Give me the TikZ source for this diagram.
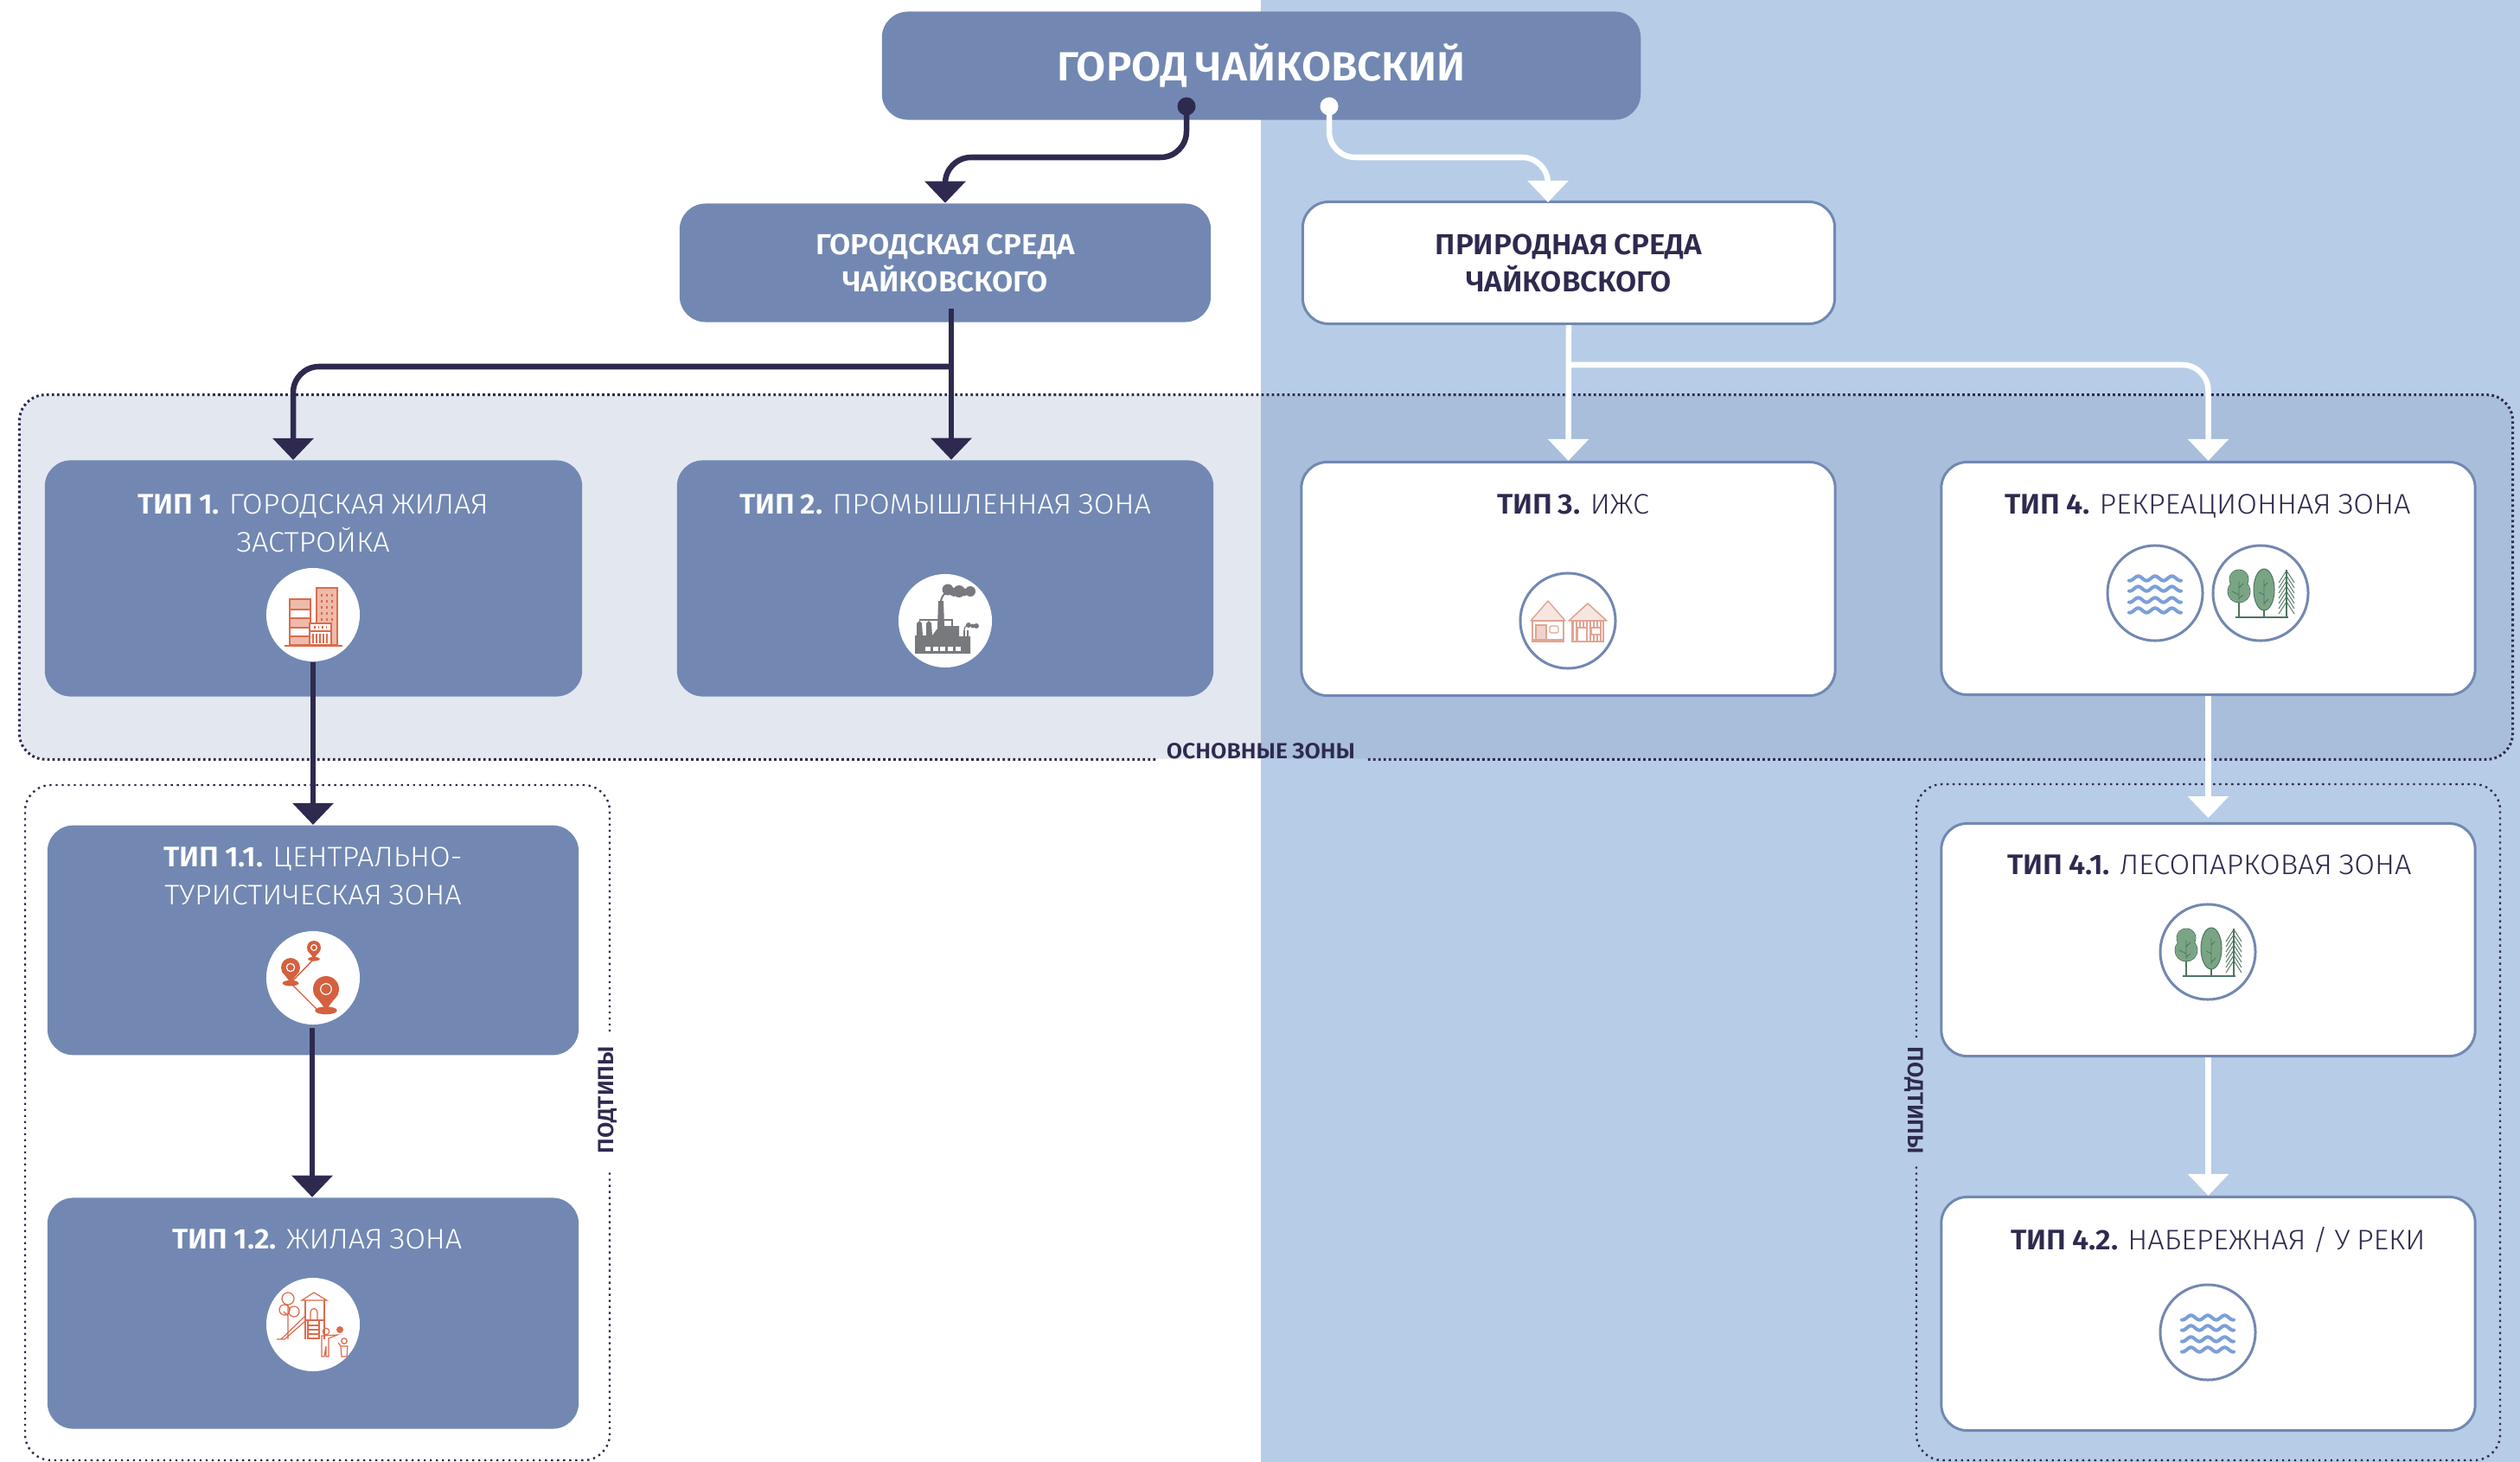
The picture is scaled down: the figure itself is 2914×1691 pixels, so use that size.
\documentclass[tikz,border=0pt]{standalone}
\usepackage{fontspec}
\setmainfont[FakeStretch=1.05,WordSpace=0.8,UprightFont={* Light},BoldFont={* SemiBold}]{Fira Sans}
\usetikzlibrary{arrows.meta,calc,positioning}

\definecolor{boxblue}{HTML}{7288B2}
\definecolor{bgblue}{HTML}{B7CCE6}
\definecolor{darkink}{HTML}{2E2A4F}
\definecolor{pinred}{HTML}{D4603F}
\definecolor{towerred}{HTML}{DC6B4C}
\definecolor{towerfill}{HTML}{EDBBAC}
\definecolor{houseline}{HTML}{E0A593}
\definecolor{housefill}{HTML}{F5E6E1}
\definecolor{factorygrey}{HTML}{77797C}
\definecolor{waterblue}{HTML}{7B9FD8}
\definecolor{leafgreen}{HTML}{7AA585}
\definecolor{stemgreen}{HTML}{4C7560}

\newcommand{\pinmark}[3]{%
    \fill[pinred] (#1,#2) circle[radius=#3];
    \fill[pinred] ({#1-.92*#3},{#2+.4*#3}) -- (#1,{#2+1.6*#3}) -- ({#1+.92*#3},{#2+.4*#3}) -- cycle;
    \fill[pinred] (#1,{#2+1.65*#3}) ellipse[x radius={.85*#3},y radius={.3*#3}];
    \draw[white,line width=.012cm] (#1,#2) circle[radius={.42*#3}];
}

\tikzset{
    citybox/.style={rectangle,rounded corners=.3cm,fill=boxblue,inner sep=0pt,text=white,font=\bfseries\fontsize{9.5}{12.2}\selectfont,align=center},
    natbox/.style={citybox,fill=white,draw=boxblue,line width=.03cm,text=darkink},
    typetext/.style={anchor=north,inner sep=0pt,align=center,text=white,font=\fontsize{9.3}{12.5}\selectfont},
    typedark/.style={typetext,text=darkink},
    zonetext/.style={inner sep=0pt,text=darkink,font=\bfseries\fontsize{7.2}{9}\selectfont},
    iconspot/.style={circle,fill=white,inner sep=0pt,minimum size=1.08cm},
    iconring/.style={circle,fill=white,draw=boxblue,line width=.03cm,inner sep=0pt,minimum size=1.1cm},
    zonedots/.style={darkink,line width=.03cm,dash pattern=on .028cm off .032cm,rounded corners=.3cm},
    subdots/.style={darkink,line width=.024cm,dash pattern=on .024cm off .046cm,rounded corners=.3cm},
    darkline/.style={draw=darkink,line width=.065cm,rounded corners=.3cm,-{Triangle[width=.46cm,length=.25cm]}},
    whiteline/.style={draw=white,line width=.065cm,rounded corners=.3cm,-{Triangle[width=.46cm,length=.25cm]}},
    startdot/.style={circle,inner sep=0pt,minimum size=.21cm},
    pics/towersicon/.style={code={
        \draw[towerred,fill=towerfill,line width=.018cm] (4,-31) rectangle (28,35);
        \foreach \wx in {10,16,22} \foreach \wy in {-24,-17,-10,-3,4}
            \fill[towerred] (\wx-1,\wy) rectangle (\wx+1,\wy+3);
        \draw[towerred,fill=towerfill,line width=.018cm] (-27,-18) rectangle (-3,35);
        \draw[towerred,fill=white,line width=.018cm] (-27,-6) rectangle (-3,4);
        \draw[towerred,fill=white,line width=.018cm] (-27,15) rectangle (-3,25);
        \draw[towerred,fill=white,line width=.018cm] (-4,10) rectangle (21,35);
        \draw[towerred,line width=.018cm] (-4,19) -- (21,19);
        \foreach \wx in {1,5.5,10,14.5} \fill[towerred] (\wx,13) rectangle (\wx+1.5,16);
        \foreach \wx in {0,4,8,12,16} \draw[towerred,line width=.012cm] (\wx,22) -- (\wx,33);
        \draw[towerred,line width=.02cm] (-33,35.5) -- (34,35.5);
    }},
    pics/factoryicon/.style={code={
        \fill[factorygrey] (-35,38) -- (-35,17) -- (-33,17) -- (-33,3) -- (-30,0) -- (-27,3) -- (-26,17)
            -- (-22,17) -- (-22,3) -- (-19,0) -- (-16,3) -- (-15,17) -- (-9,9) -- (-8,-23) -- (-2,-23)
            -- (-1,6) -- (16,6) -- (16,18) -- (21,18) -- (21,11) -- (23,11) -- (23,18) -- (25,18) -- (25,11)
            -- (27,11) -- (27,18) -- (29,18) -- (29,38) -- cycle;
        \draw[factorygrey,line width=.012cm] (-30,-1) -- (8,-1) -- (8,6);
        \draw[factorygrey,line width=.02cm] (-5,-23) .. controls (-4,-28) and (-2,-30) .. (0,-32);
        \fill[factorygrey] (3,-36) circle[radius=6.5] (10,-33) circle[radius=5] (16,-34) circle[radius=7] (22,-33) circle[radius=4.5] (29,-34) circle[radius=6];
        \draw[factorygrey,line width=.012cm] (22,12) .. controls (22,8) and (23,6) .. (26,5);
        \fill[factorygrey] (27,5) circle[radius=3] (32,6) circle[radius=2.5] (36,6) circle[radius=3];
        \foreach \wx in {-23,-14,-6,3,12} \fill[white] (\wx,30) rectangle (\wx+6,35);
    }},
    pics/housesicon/.style={code={
        \draw[houseline,fill=housefill,line width=.014cm,line join=round] (-43,0) -- (-23,-23) -- (-3,0) -- cycle;
        \draw[houseline,line width=.012cm] (-41,0) rectangle (-5,24);
        \draw[houseline,line width=.012cm] (-41,22) -- (-5,22);
        \draw[houseline,fill=housefill!70!houseline,line width=.012cm] (-37,5) rectangle (-25,22);
        \draw[houseline,line width=.012cm,rounded corners=.02cm] (-21,6) rectangle (-11,14);
        \draw[houseline!90!pinred,fill=housefill,line width=.014cm,line join=round] (1,0) -- (23,-20) -- (45,0) -- cycle;
        \foreach \wx in {6,10,14,18,22,26,30,34,38}
            \draw[houseline,line width=.014cm] (\wx,0) -- (\wx,24);
        \draw[houseline,line width=.014cm] (5,0) rectangle (41,24);
        \draw[houseline,fill=white,line width=.012cm] (11,8) rectangle (22,24);
        \draw[houseline,fill=white,line width=.012cm] (27,8) rectangle (38,16);
    }},
    pics/wavesicon/.style={code={
        \foreach \wy in {-17,-5,8,20}
            \draw[waterblue,line width=.04cm,line cap=round] plot[domain=-30:30,samples=50,smooth] (\x,{\wy-2.6*cos(18.5*\x)});
    }},
    pics/treesicon/.style={code={
        \draw[stemgreen,line width=.014cm] (-25,0) -- (-25,28) (4,10) -- (4,28);
        \draw[stemgreen,line width=.018cm] (-29,28) -- (32,28);
        \draw[stemgreen,line width=.01cm] (-25,-16) circle[radius=11];
        \draw[stemgreen,line width=.01cm] (-25,-2) circle[radius=13];
        \fill[leafgreen] (-25,-16) circle[radius=10.5] (-25,-2) circle[radius=12.5];
        \draw[stemgreen,line width=.01cm,fill=leafgreen] (4,-4) ellipse[x radius=12,y radius=24];
        \draw[stemgreen,line width=.008cm] (-25,-14) -- (-25,8) (-25,-6) -- (-20,-11) (-25,2) -- (-33,-2) (-25,6) -- (-20,2);
        \draw[stemgreen,line width=.008cm] (4,-16) -- (4,14) (4,-8) -- (8,-12) (4,2) -- (-2,-1) (4,12) -- (9,7);
        \draw[stemgreen,line width=.012cm] (30,-27) -- (30,28);
        \foreach \py in {-26,-20,-14,-8,-2,4,10}
            \draw[stemgreen,line width=.009cm] (21,\py+14) -- (30,\py) -- (39,\py+14);
    }},
    pics/pinsicon/.style={code={
        \draw[pinred,line width=.014cm] (1,-22) -- (-26,6) -- (4,36);
        \pinmark{1}{-35}{8}
        \pinmark{-26}{-12}{11}
        \pinmark{15}{13}{15}
    }},
    pics/playicon/.style={code={
        \begin{scope}[towerred,line width=.012cm]
            \draw (-29,-30) circle[radius=7] (-33,-17) circle[radius=6] (-22,-15) circle[radius=6];
            \draw (-29,-22) -- (-29,17) (-29,-10) -- (-34,-15);
            \draw (-13,-28) -- (1,-37) -- (16,-28) -- cycle;
            \draw (-9,-28) -- (-9,17) (13,-28) -- (13,17) (-9,-5) -- (13,-5);
            \draw (-3,-5) -- (-3,-14) .. controls (-3,-20) and (5,-20) .. (5,-14) -- (5,-5);
            \draw (-9,-10) -- (-37,17) -- (-42,17) (-9,-4) -- (-33,17) -- (-37,17);
            \draw (-6,-5) -- (-6,17) (7,-5) -- (7,17);
            \foreach \ry in {1,6,11,16} \draw (-6,\ry) -- (7,\ry);
            \draw (15,8) circle[radius=3.8];
            \draw (10,13) -- (28,12) -- (18,16) -- (18,37) -- (15,37) -- (15,25) -- (13,37) -- (10,37) -- (10,20) -- cycle;
            \draw (36,19) circle[radius=3.2];
            \draw (32,25) -- (40,25) -- (39,37) -- (33,37) -- cycle (32,25) -- (29,21);
        \end{scope}
        \fill[towerred] (31,6) circle[radius=4];
    }},
}

\begin{document}
\begin{tikzpicture}[x=.01cm,y=-.01cm]
    \useasboundingbox (0,0) rectangle (2914,1691);
    \fill[bgblue] (1458,0) rectangle (2914,1691);

    % main zone frame
    \node[rectangle,rounded corners=.3cm,fill=boxblue,fill opacity=.2,minimum width=28.8cm,minimum height=4.2cm,inner sep=0pt] (mainzone) at (1464,667.5) {};
    \node[zonetext] (zonelabel) at (1458,869) {ОСНОВНЫЕ ЗОНЫ};
    \draw[zonedots] ([xshift=-.12cm]zonelabel.west |- mainzone.south) -- (mainzone.south west) -- (mainzone.north west) -- (mainzone.north east) -- (mainzone.south east) -- ([xshift=.12cm]zonelabel.east |- mainzone.south);

    % subtype frames
    \coordinate (subleftnw) at (29,908);
    \coordinate (subleftse) at (705,1689);
    \node[zonetext,rotate=90] (subleftlabel) at (703,1272) {ПОДТИПЫ};
    \draw[subdots] (subleftlabel.east -| subleftse) ++(0,-16) -- (subleftse |- subleftnw) -- (subleftnw) -- (subleftnw |- subleftse) -- (subleftse) -- ([yshift=-.17cm]subleftlabel.west -| subleftse);
    \coordinate (subrightnw) at (2216,907);
    \coordinate (subrightse) at (2891,1689);
    \node[zonetext,rotate=-90] (subrightlabel) at (2213,1273) {ПОДТИПЫ};
    \draw[subdots] (subrightlabel.west -| subrightnw) ++(0,-10) -- (subrightnw) -- (subrightnw -| subrightse) -- (subrightse) -- (subrightnw |- subrightse) -- ([yshift=-.1cm]subrightlabel.east -| subrightnw);

    % top levels
    \node[citybox,minimum width=8.77cm,minimum height=1.25cm,font=\bfseries\fontsize{13.4}{15}\selectfont] (city) at (1458.5,76) {ГОРОД ЧАЙКОВСКИЙ};
    \node[citybox,minimum width=6.14cm,minimum height=1.37cm] (cityenv) at (1093,304) {ГОРОДСКАЯ СРЕДА\\ЧАЙКОВСКОГО};
    \node[natbox,minimum width=6.15cm,minimum height=1.41cm] (natenv) at (1814,304) {ПРИРОДНАЯ СРЕДА\\ЧАЙКОВСКОГО};

    % types
    \node[citybox,minimum width=6.21cm,minimum height=2.73cm] (type1) at (362.5,669) {};
    \node[citybox,minimum width=6.2cm,minimum height=2.73cm] (type2) at (1093,669) {};
    \node[natbox,minimum width=6.17cm,minimum height=2.7cm] (type3) at (1813.5,669.5) {};
    \node[natbox,minimum width=6.17cm,minimum height=2.69cm] (type4) at (2553.5,669) {};
    \node[typetext] (type1text) at (362,571) {\textbf{ТИП 1.} ГОРОДСКАЯ ЖИЛАЯ\\ЗАСТРОЙКА};
    \node[typetext] (type2text) at (1093,571) {\textbf{ТИП 2.} ПРОМЫШЛЕННАЯ ЗОНА};
    \node[typedark] (type3text) at (1819,571) {\textbf{ТИП 3.} ИЖС};
    \node[typedark] (type4text) at (2553,571) {\textbf{ТИП 4.} РЕКРЕАЦИОННАЯ ЗОНА};

    % subtypes
    \node[citybox,minimum width=6.14cm,minimum height=2.655cm] (type11) at (362,1087.5) {};
    \node[citybox,minimum width=6.14cm,minimum height=2.67cm] (type12) at (362,1519) {};
    \node[natbox,minimum width=6.17cm,minimum height=2.69cm] (type41) at (2553.5,1087) {};
    \node[natbox,minimum width=6.17cm,minimum height=2.7cm] (type42) at (2553.5,1519.5) {};
    \node[typetext] (type11text) at (362,979) {\textbf{ТИП 1.1.} ЦЕНТРАЛЬНО-\\ТУРИСТИЧЕСКАЯ ЗОНА};
    \node[typetext] (type12text) at (367,1421) {\textbf{ТИП 1.2.} ЖИЛАЯ ЗОНА};
    \node[typedark] (type41text) at (2555,988) {\textbf{ТИП 4.1.} ЛЕСОПАРКОВАЯ ЗОНА};
    \node[typedark] (type42text) at (2565,1419) {\textbf{ТИП 4.2.} НАБЕРЕЖНАЯ / У РЕКИ};

    % icons
    \node[iconspot] (spot1) at (362,711) {};
    \pic at (spot1) {towersicon};
    \node[iconspot] (spot2) at (1093,718) {};
    \pic at (spot2) {factoryicon};
    \node[iconring] (ring3) at (1813,718) {};
    \pic at (ring3) {housesicon};
    \node[iconring] (ring4a) at (2492,686) {};
    \pic at (ring4a) {wavesicon};
    \node[iconring] (ring4b) at (2614,686) {};
    \pic at (ring4b) {treesicon};
    \node[iconspot] (spot11) at (362,1131) {};
    \pic at (spot11) {pinsicon};
    \node[iconspot] (spot12) at (362,1532) {};
    \pic at (spot12) {playicon};
    \node[iconring] (ring41) at (2553,1101) {};
    \pic at (ring41) {treesicon};
    \node[iconring] (ring42) at (2553,1541) {};
    \pic at (ring42) {wavesicon};

    % urban connectors
    \node[startdot,fill=darkink] (citydot) at (1372,123) {};
    \coordinate (topbend) at (0,182);
    \draw[darkline] (citydot.center) -- (citydot.center |- topbend) -- (cityenv.north |- topbend) -- (cityenv.north);
    \coordinate (cityout) at (1100,357);
    \coordinate (citybranch) at (1100,424);
    \coordinate (type1in) at (339,532);
    \draw[darkline] (cityout) -- (cityout |- type2.north);
    \draw[darkline] (citybranch) -- (citybranch -| type1in) -- (type1in);
    \draw[darkline] (spot1.south) -- (spot1.south |- type11.north);
    \coordinate (spot11out) at (361,1189);
    \draw[darkline] (spot11out) -- (spot11out |- type12.north);

    % natural connectors
    \node[startdot,fill=white] (natdot) at (1537,123) {};
    \coordinate (natin) at (1790,234);
    \draw[whiteline] (natdot.center) -- (natdot.center |- topbend) -- (natin |- topbend) -- (natin);
    \coordinate (natbranch) at (1815,422);
    \draw[whiteline] (natenv.south) -- (type3.north);
    \draw[whiteline] (natbranch) -- (natbranch -| type4.north) -- (type4.north);
    \draw[whiteline] (type4.south) -- ++(0,141);
    \draw[whiteline] (type41.south) -- (type42.north);
\end{tikzpicture}
\end{document}
